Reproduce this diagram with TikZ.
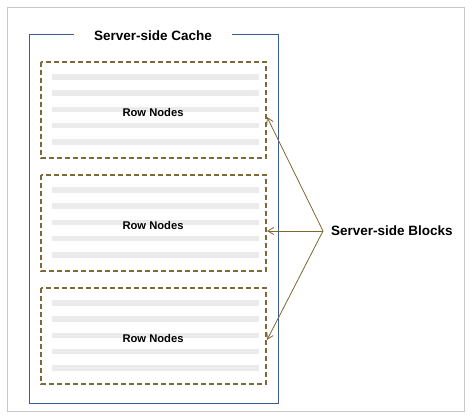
\documentclass[tikz,border=0pt]{standalone}
\usepackage{fontspec}
\setmainfont{Liberation Sans}
\usetikzlibrary{arrows.meta}
\definecolor{framegray}{HTML}{C8C8C8}
\definecolor{cacheblue}{HTML}{3A5A98}
\definecolor{blockbrown}{HTML}{7E6A38}
\definecolor{arrowbrown}{HTML}{7A6A30}
\definecolor{bargray}{HTML}{EBEBEB}
\tikzset{
  blockbox/.style={draw=blockbrown, dash pattern=on 5pt off 3pt, line width=1.1pt},
  rowbar/.style={fill=bargray, draw=none},
  rowlabel/.style={font=\bfseries\fontsize{11.2}{13}\selectfont, inner sep=1pt},
  bigtitle/.style={font=\bfseries\fontsize{13.5}{16}\selectfont, inner sep=1pt},
  pointer/.style={draw=arrowbrown, line width=0.8pt, -{Straight Barb[length=6pt,width=7pt]}},
}
\begin{document}
\begin{tikzpicture}[x=1pt,y=-1pt]
\useasboundingbox (0,0) rectangle (474,419);
% outer frame
\draw[framegray, line width=0.8pt] (7,7) rectangle (464,411);
% cache frame
\draw[cacheblue, line width=1pt] (74,35) -- (29,35) -- (29,404) -- (278,404) -- (278,35) -- (232,35);
\node[bigtitle] (title) at (153,36) {Server-side Cache};
% blocks
\foreach \i/\t in {1/62,2/175,3/288}{
  \foreach \k in {0,...,4}{
    \fill[rowbar] (52,\t+15+\k*16.2-2.8) rectangle (259,\t+15+\k*16.2+2.8);
  }
  \draw[blockbox] (41,\t) rectangle (266,\t+96);
  \node[rowlabel] (rn\i) at (153,\t+50.5) {Row Nodes};
}
\coordinate (tipA) at (267,117);
\coordinate (tipB) at (267,231);
\coordinate (tipC) at (267,340);
\node[bigtitle, anchor=west] (sb) at (330,231) {Server-side Blocks};
\coordinate (src) at (323,231);
\draw[pointer] (src) -- (tipA);
\draw[pointer] (src) -- (tipB);
\draw[pointer] (src) -- (tipC);
\end{tikzpicture}
\end{document}
